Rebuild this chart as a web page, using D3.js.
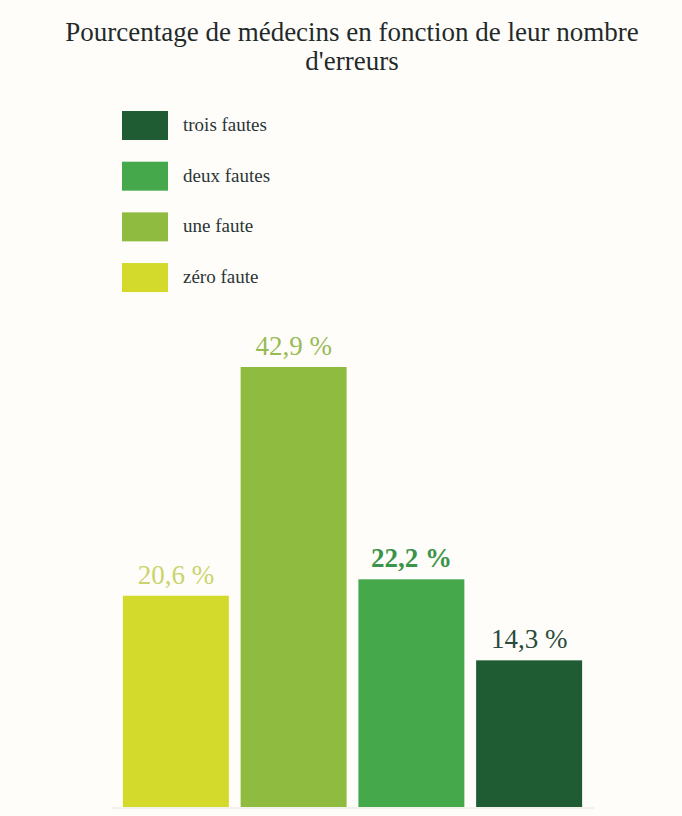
<!DOCTYPE html>
<html>
<head>
<meta charset="utf-8">
<script src="https://cdn.jsdelivr.net/npm/d3@7"></script>
<style>
  body { margin: 0; background: #fffdfa; }
  svg { display: block; }
  text { font-family: "Liberation Serif", "Times New Roman", "DejaVu Serif", serif; }
</style>
</head>
<body>
<div class="chart"></div>
<script>
// donnees
var categories = ["zéro faute", "une faute", "deux fautes", "trois fautes"];
var valeurs = [20.6, 42.9, 22.2, 14.3];
var etiquettes = ["20,6 %", "42,9 %", "22,2 %", "14,3 %"];
var couleurs = ["#d3da2c", "#8fbb41", "#45a94b", "#1f5c34"];
var couleursTexte = ["#c9d46c", "#97bb55", "#3a9449", "#2b4b3c"];
var ordreLegende = ["trois fautes", "deux fautes", "une faute", "zéro faute"];

var w = 682, h = 816;
var svg = d3.select(".chart").append("svg")
    .attr("width", w)
    .attr("height", h);

svg.append("rect").attr("width", w).attr("height", h).attr("fill", "#fffdfa");

// titre
var titre = svg.append("text")
    .attr("text-anchor", "middle")
    .attr("font-size", "27px")
    .attr("fill", "#1f2a2a");
titre.append("tspan").attr("x", 352).attr("y", 41).text("Pourcentage de médecins en fonction de leur nombre");
titre.append("tspan").attr("x", 352).attr("y", 70).text("d'erreurs");

// echelles
var x = d3.scaleBand()
    .domain(categories)
    .range([117, 588])
    .paddingInner(0.1)
    .paddingOuter(0.05);
var y = d3.scaleLinear()
    .domain([0, 42.9])
    .range([807, 367]);
var couleur = d3.scaleOrdinal().domain(categories).range(couleurs);

// legende
var leg = d3.scaleBand().domain(ordreLegende).range([111, 296]).paddingInner(0.35);
var items = svg.selectAll("g.leg").data(ordreLegende).enter().append("g").attr("class", "leg");
items.append("rect")
    .attr("x", 122)
    .attr("y", function(d) { return leg(d); })
    .attr("width", 46)
    .attr("height", 29)
    .attr("fill", function(d) { return couleur(d); });
items.append("text")
    .attr("x", 183)
    .attr("y", function(d) { return leg(d) + 20; })
    .attr("font-size", "19px")
    .attr("fill", "#2a3636")
    .text(function(d) { return d; });

// barres
svg.selectAll("rect.bar").data(valeurs).enter().append("rect")
    .attr("class", "bar")
    .attr("x", function(d, i) { return x(categories[i]); })
    .attr("y", function(d) { return y(d); })
    .attr("width", x.bandwidth())
    .attr("height", function(d) { return y(0) - y(d); })
    .attr("fill", function(d, i) { return couleurs[i]; });

// ligne de base
svg.append("line")
    .attr("x1", 112).attr("x2", 594)
    .attr("y1", 808).attr("y2", 808)
    .attr("stroke", "#e6e4dc").attr("stroke-width", 1);

// etiquettes
svg.selectAll("text.val").data(valeurs).enter().append("text")
    .attr("class", "val")
    .attr("text-anchor", "middle")
    .attr("x", function(d, i) { return x(categories[i]) + x.bandwidth() / 2; })
    .attr("y", function(d) { return y(d) - 12; })
    .attr("font-size", "27px")
    .attr("font-weight", function(d, i) { return i == 2 ? "bold" : "normal"; })
    .attr("fill", function(d, i) { return couleursTexte[i]; })
    .text(function(d, i) { return etiquettes[i]; });
</script>
</body>
</html>
